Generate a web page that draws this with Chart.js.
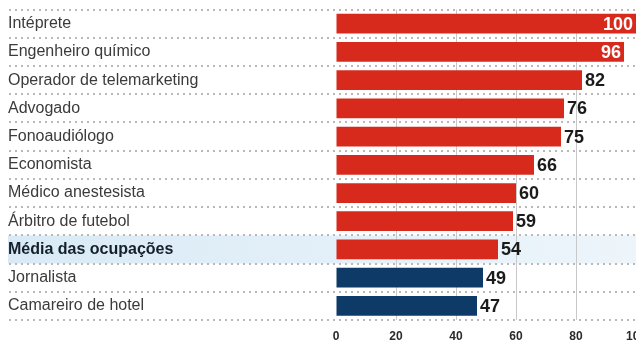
<!DOCTYPE html>
<html>
<head>
<meta charset="utf-8">
<script src="https://cdn.jsdelivr.net/npm/chart.js@4"></script>
<style>
  html, body { margin: 0; padding: 0; background: #fff; }
  canvas { display: block; }
</style>
</head>
<body>
<canvas id="occChart" width="636" height="347"></canvas>
<script>
// data
const occupations = [
  'Intéprete', 'Engenheiro químico', 'Operador de telemarketing', 'Advogado',
  'Fonoaudiólogo', 'Economista', 'Médico anestesista', 'Árbitro de futebol',
  'Média das ocupações', 'Jornalista', 'Camareiro de hotel'
];
const scores = [100, 96, 82, 76, 75, 66, 60, 59, 54, 49, 47];
const xTicks = [0, 20, 40, 60, 80, 100];
const averageLabel = 'Média das ocupações';

const RED = '#d82a1c';
const NAVY = '#0d3a66';
const labelFont = "'Liberation Sans Narrow', 'Liberation Sans', Arial, sans-serif";
const numFont = "'Liberation Sans', Arial, sans-serif";

const avgIndex = occupations.indexOf(averageLabel);
const avgValue = scores[avgIndex];
const barColors = scores.map(v => v >= avgValue ? RED : NAVY);

// row band + dotted separators, drawn under the bars
const rowsPlugin = {
  id: 'rows',
  beforeDraw(chart) {
    const ctx = chart.ctx;
    const y = chart.scales.y;
    const step = y.getPixelForValue(1) - y.getPixelForValue(0);
    const yc = y.getPixelForValue(avgIndex);
    const g = ctx.createLinearGradient(8, 0, chart.width, 0);
    g.addColorStop(0, '#d9eaf6');
    g.addColorStop(1, '#edf5fb');
    ctx.save();
    ctx.fillStyle = g;
    ctx.fillRect(8, yc - step / 2, chart.width - 8, step);
    ctx.restore();
  },
  beforeDatasetsDraw(chart) {
    const ctx = chart.ctx;
    const y = chart.scales.y;
    const step = y.getPixelForValue(1) - y.getPixelForValue(0);
    ctx.save();
    ctx.fillStyle = '#b9b9b9';
    for (let i = 0; i <= occupations.length; i++) {
      const yy = Math.round(y.getPixelForValue(0) - step / 2 + i * step);
      for (let x = 9; x < chart.width; x += 6) {
        ctx.fillRect(x, yy - 1, 2, 2);
      }
    }
    ctx.restore();
  }
};

// value labels at the end of each bar
const valuesPlugin = {
  id: 'values',
  afterDatasetsDraw(chart) {
    const ctx = chart.ctx;
    const meta = chart.getDatasetMeta(0);
    ctx.save();
    ctx.font = 'bold 18px ' + numFont;
    ctx.textBaseline = 'middle';
    meta.data.forEach((bar, i) => {
      const v = scores[i];
      if (v >= 90) {
        ctx.fillStyle = '#ffffff';
        ctx.textAlign = 'right';
        ctx.fillText(String(v), bar.x - 3, bar.y + 1);
      } else {
        ctx.fillStyle = '#1b1b1b';
        ctx.textAlign = 'left';
        ctx.fillText(String(v), bar.x + 3, bar.y + 1);
      }
    });
    ctx.restore();
  }
};

const ctx = document.getElementById('occChart').getContext('2d');
new Chart(ctx, {
  type: 'bar',
  data: {
    labels: occupations,
    datasets: [{
      data: scores,
      backgroundColor: barColors,
      borderWidth: 0,
      barPercentage: 0.7,
      categoryPercentage: 1
    }]
  },
  options: {
    indexAxis: 'y',
    responsive: false,
    animation: false,
    devicePixelRatio: 1,
    layout: { padding: { left: 8, right: 0, top: 5, bottom: 0 } },
    plugins: {
      legend: { display: false },
      tooltip: { enabled: false }
    },
    scales: {
      x: {
        min: 0,
        max: 100,
        afterBuildTicks: scale => { scale.ticks = xTicks.map(v => ({ value: v })); },
        afterFit: scale => {
          scale.height = 27;
          scale.paddingLeft = 0;
          scale.paddingRight = 0;
        },
        border: { display: false },
        grid: {
          drawTicks: false,
          lineWidth: 1,
          color: c => (c.tick && (c.tick.value === 0 || c.tick.value === 100)) ? 'rgba(0,0,0,0)' : '#c9c9c9'
        },
        ticks: {
          padding: 9,
          maxRotation: 0,
          autoSkip: false,
          color: '#2a2a2a',
          font: { family: numFont, size: 12, weight: 'bold' }
        }
      },
      y: {
        afterFit: scale => { scale.width = 328; },
        border: { display: false },
        grid: { display: false },
        ticks: {
          crossAlign: 'far',
          padding: 0,
          color: c => occupations[c.index] === averageLabel ? '#15202b' : '#3b3b3b',
          font: c => ({
            family: labelFont,
            size: 16,
            weight: occupations[c.index] === averageLabel ? 'bold' : 'normal'
          })
        }
      }
    }
  },
  plugins: [rowsPlugin, valuesPlugin]
});
</script>
</body>
</html>
